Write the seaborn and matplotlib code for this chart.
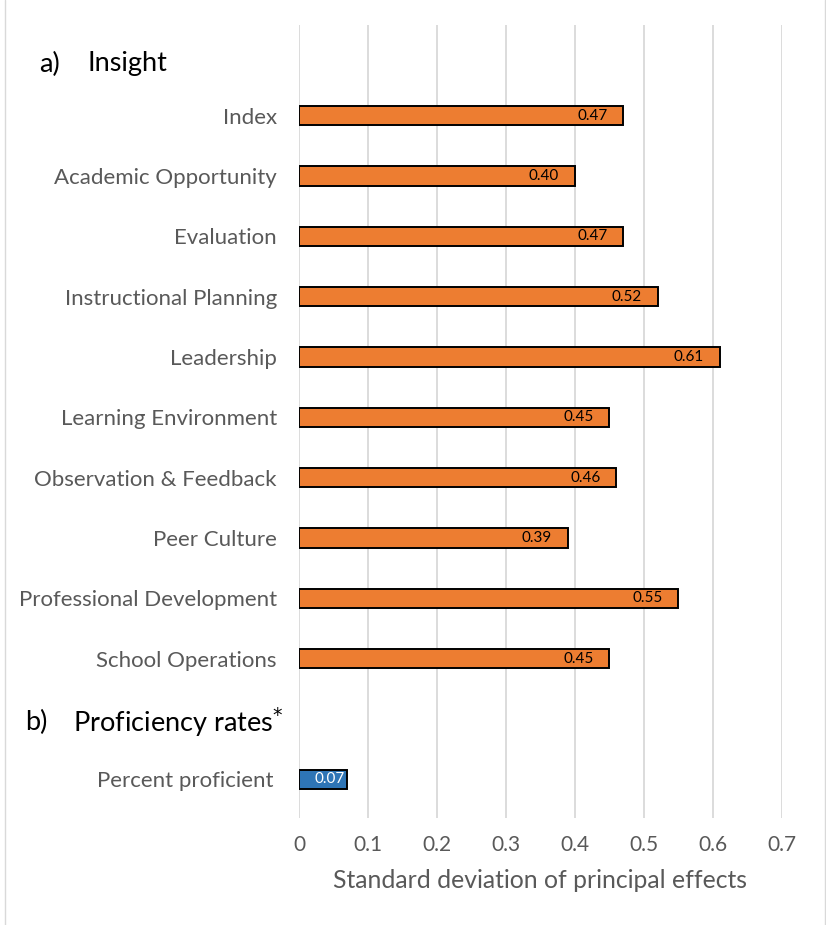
# -*- coding: utf-8 -*-
# Principal effects: SD by Insight domain, plus proficiency rates
import pandas as pd
import seaborn as sns
import matplotlib.pyplot as plt
from matplotlib.lines import Line2D

# %% Data
insight_domains = ["Index", "Academic Opportunity", "Evaluation",
                   "Instructional Planning", "Leadership",
                   "Learning Environment", "Observation & Feedback",
                   "Peer Culture", "Professional Development",
                   "School Operations"]
insight_sd = [0.47, 0.40, 0.47, 0.52, 0.61, 0.45, 0.46, 0.39, 0.55, 0.45]
prof_labels = ["Percent proficient"]
prof_sd = [0.07]
x_ticks = [0, 0.1, 0.2, 0.3, 0.4, 0.5, 0.6, 0.7]

df = pd.DataFrame({
    "measure": insight_domains + prof_labels,
    "sd": insight_sd + prof_sd,
    "group": ["Insight"] * len(insight_domains) + ["Proficiency"] * len(prof_labels),
})

# header slots sit in the category order so the spacing matches
order = ["_hdr_a"] + insight_domains + ["_hdr_b"] + prof_labels

# %% Plot
sns.set_style("white")
plt.rcParams["font.family"] = ["Lato", "DejaVu Sans"]

fig = plt.figure(figsize=(8.26, 9.25), dpi=100)
ax = fig.add_axes([0.362, 1 - 818 / 925, 0.5847, 793 / 925])

sns.barplot(data=df, y="measure", x="sd", hue="group", order=order,
            palette={"Insight": "#ED7D31", "Proficiency": "#2E75B6"},
            saturation=1, orient="h", width=0.32, edgecolor="black",
            linewidth=1.4, legend=False, ax=ax)

# value labels inside the bar end
for p in ax.patches:
    w = p.get_width()
    if not w == w or w == 0:
        continue
    yc = p.get_y() + p.get_height() / 2
    if w < 0.1:
        ax.annotate(f"{w:.2f}", (w, yc), xytext=(-3, 0), textcoords="offset pixels",
                    ha="right", va="center", fontsize=11, color="white")
    else:
        ax.annotate(f"{w:.2f}", (w, yc), xytext=(-16, 0), textcoords="offset pixels",
                    ha="right", va="center", fontsize=11, color="black")

ax.set_xlim(0, 0.7)
ax.set_ylim(12.64, -0.5)
ax.set_xticks(x_ticks)
ax.set_xticklabels(["0"] + [f"{t:.1f}" for t in x_ticks[1:]])
ax.xaxis.grid(True, color="#d9d9d9", linewidth=1.3)
ax.set_axisbelow(True)
for s in ax.spines.values():
    s.set_visible(False)

ax.set_yticks(range(len(order)))
ax.set_yticklabels(["" if o.startswith("_hdr") else o for o in order])
ax.tick_params(axis="y", length=0, pad=16, labelsize=16, labelcolor="#595959")
ax.tick_params(axis="x", length=0, pad=12, labelsize=15, labelcolor="#595959")
# the last label sits a little further left in the reference
ax.get_yticklabels()[-1].set_x(-0.007)
ax.set_ylabel("")
ax.set_xlabel("Standard deviation of principal effects", fontsize=17.8,
              color="#595959", labelpad=10)

# section headers
fig.text(39 / 826, 1 - 64 / 925, "a)", fontsize=19.5, va="center", color="black")
fig.text(87 / 826, 1 - 64 / 925, "Insight", fontsize=19.5, va="center", color="black")
fig.text(25 / 826, 1 - 722 / 925, "b)", fontsize=19.5, va="center", color="black")
fig.text(73 / 826, 1 - 722 / 925, r"Proficiency rates$^{*}$", fontsize=19.5,
         va="center", color="black")

# faint frame lines at the figure edges
fig.add_artist(Line2D([4.5 / 826, 4.5 / 826], [0, 1], color="#d9d9d9", lw=1))
fig.add_artist(Line2D([825 / 826, 825 / 826], [0, 1], color="#d9d9d9", lw=1))

fig.savefig("out.png", dpi=100)
